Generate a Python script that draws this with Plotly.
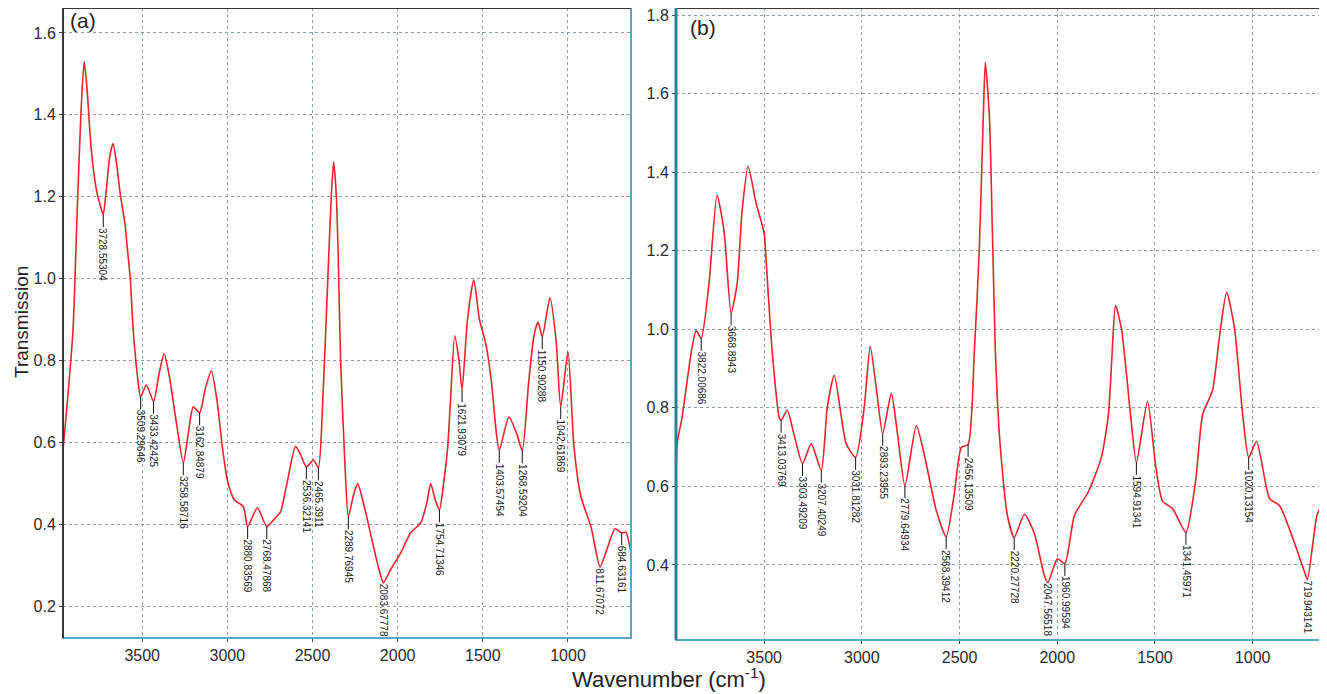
import numpy as np
import plotly.graph_objects as go

# ---------------- data: panel (a) ----------------
wn_a = [3965, 3935, 3906, 3882, 3860, 3841, 3825, 3800, 3770, 3740, 3728.55304, 3710, 3690, 3671,
        3650, 3630, 3600, 3588, 3570, 3553, 3530, 3509.29646, 3476, 3433.42425, 3400, 3371, 3340,
        3300, 3258.58716, 3230, 3200, 3162.84879, 3130, 3094, 3060, 3030, 3000, 2960, 2906,
        2880.83569, 2824, 2768.47868, 2730, 2688, 2650, 2600, 2570, 2536.32141, 2494, 2465.3911,
        2440, 2412, 2390, 2376, 2360, 2350, 2335, 2310, 2289.76945, 2260, 2235, 2200, 2150, 2110,
        2083.67778, 2040, 1982, 1924, 1865, 1830, 1806, 1780, 1754.71346, 1730, 1706, 1690, 1665,
        1640, 1621.93079, 1590, 1553, 1520, 1482, 1450, 1420, 1403.57454, 1347, 1300, 1268.59204,
        1230, 1200, 1176, 1150.90288, 1106, 1070, 1042.61869, 1000, 965, 924, 865, 811.67072, 770,
        724, 684.63161, 660, 630]
tr_a = [0.58, 0.72, 0.875, 1.16, 1.40, 1.53, 1.47, 1.32, 1.22, 1.17, 1.156, 1.22, 1.30, 1.33,
        1.28, 1.21, 1.13, 1.077, 1.00, 0.875, 0.77, 0.711, 0.74, 0.70, 0.77, 0.816, 0.76,
        0.65, 0.55, 0.62, 0.687, 0.672, 0.73, 0.775, 0.70, 0.59, 0.508, 0.46, 0.443,
        0.394, 0.44, 0.394, 0.41, 0.43, 0.50, 0.59, 0.57, 0.54, 0.557, 0.538,
        0.70, 0.98, 1.20, 1.285, 1.20, 1.07, 0.80, 0.55, 0.418, 0.47, 0.499, 0.45, 0.36, 0.29,
        0.257, 0.29, 0.33, 0.379, 0.403, 0.45, 0.499, 0.46, 0.435, 0.50, 0.589, 0.70, 0.86,
        0.80, 0.728, 0.90, 0.997, 0.90, 0.84, 0.75, 0.62, 0.58, 0.662, 0.62, 0.579,
        0.75, 0.86, 0.894, 0.858, 0.953, 0.85, 0.687, 0.821, 0.59, 0.467, 0.394, 0.296, 0.34,
        0.389, 0.379, 0.38, 0.33]
peaks_a = ["3728.55304", "3509.29646", "3433.42425", "3258.58716", "3162.84879", "2880.83569",
           "2768.47868", "2536.32141", "2465.3911", "2289.76945", "2083.67778", "1754.71346",
           "1621.93079", "1403.57454", "1268.59204", "1150.90288", "1042.61869", "811.67072",
           "684.63161"]

# ---------------- data: panel (b) ----------------
wn_b = [3951, 3945, 3920, 3869, 3848, 3822.00686, 3782, 3741, 3705, 3668.8943, 3638, 3613, 3582,
        3541, 3500, 3490, 3459, 3423, 3413.03769, 3382, 3346, 3303.49209, 3259, 3207.40249, 3177,
        3141, 3080, 3031.81282, 2988, 2957, 2926, 2893.23955, 2849, 2819, 2779.64934, 2721, 2680,
        2619, 2568.39412, 2527, 2491, 2456.13509, 2424, 2399, 2378, 2368, 2347, 2332, 2317, 2306,
        2291, 2255, 2220.27728, 2168, 2117, 2066, 2047.56518, 1999, 1960.99594, 1912, 1840, 1774,
        1738, 1720, 1702, 1671, 1625, 1594.91341, 1538, 1497, 1461, 1410, 1341.45971, 1292, 1256,
        1205, 1170, 1133, 1092, 1051, 1020.13154, 980, 913, 862, 738, 719.943141, 671, 647]
tr_b = [0.62, 0.71, 0.776, 0.954, 0.997, 0.977, 1.117, 1.341, 1.25, 1.041, 1.117, 1.30, 1.415,
        1.321, 1.245, 1.176, 0.946, 0.776, 0.768, 0.794, 0.73, 0.658, 0.709, 0.641, 0.80,
        0.883, 0.709, 0.674, 0.80, 0.957, 0.85, 0.735, 0.837, 0.74, 0.602, 0.755, 0.68,
        0.539, 0.472, 0.58, 0.699, 0.707, 0.946, 1.2, 1.55, 1.68, 1.54, 1.252, 0.95, 0.819,
        0.699, 0.526, 0.47, 0.529, 0.48, 0.373, 0.355, 0.416, 0.404, 0.526, 0.587, 0.674,
        0.783, 0.93, 1.061, 1.0, 0.783, 0.661, 0.817, 0.656, 0.562, 0.544, 0.483, 0.613, 0.783,
        0.845, 0.98, 1.094, 1.0, 0.783, 0.674, 0.715, 0.569, 0.551, 0.388, 0.363, 0.526, 0.551]
peaks_b = ["3822.00686", "3668.8943", "3413.03769", "3303.49209", "3207.40249", "3031.81282",
           "2893.23955", "2779.64934", "2568.39412", "2456.13509", "2220.27728", "2047.56518",
           "1960.99594", "1594.91341", "1341.45971", "1020.13154", "719.943141"]

xticks = [3500, 3000, 2500, 2000, 1500, 1000]
yticks_a = [0.2, 0.4, 0.6, 0.8, 1.0, 1.2, 1.4, 1.6]
yticks_b = [0.4, 0.6, 0.8, 1.0, 1.2, 1.4, 1.6, 1.8]

# ---------------- styling ----------------
OFF = 8                      # page body margin in the browser
W, H = 1327 - OFF, 694 - OFF
FONT = "Liberation Sans, Arial, sans-serif"
RED = "#e8232a"
GRID = "#8a9ea8"
NO_STEM = {"2083.67778", "811.67072", "2047.56518", "719.943141"}


def px(x0, x1):
    return [(x0 - OFF) / W, (x1 - OFF) / W]


def py(top, bottom):
    return [(H - (bottom - OFF)) / H, (H - (top - OFF)) / H]


def sx(x):
    return (x - OFF) / W


def sy(y):
    return (H - (y - OFF)) / H


fig = go.Figure()
for xs, ys, xa, ya in [(wn_a, tr_a, "x", "y"), (wn_b, tr_b, "x2", "y2")]:
    fig.add_trace(go.Scatter(x=xs, y=ys, mode="lines",
                             line=dict(color=RED, width=1.6, shape="spline", smoothing=0.6),
                             xaxis=xa, yaxis=ya, showlegend=False, hoverinfo="skip"))

ax_common = dict(showgrid=True, gridcolor=GRID, griddash="dot", gridwidth=1, zeroline=False,
                 showline=False, ticks="outside", ticklen=3, tickcolor="#444",
                 ticklabeloverflow="allow",
                 tickfont=dict(family=FONT, size=16, color="#2a2a2a"))

dom_xa, dom_ya = px(63, 631), py(8, 638)
dom_xb, dom_yb = px(676, 1322), py(8, 640)

fig.update_layout(
    width=W, height=H, margin=dict(l=0, r=0, t=0, b=0),
    paper_bgcolor="white", plot_bgcolor="white",
    xaxis=dict(domain=dom_xa, range=[3965, 630], tickvals=xticks, anchor="y", **ax_common),
    yaxis=dict(domain=dom_ya, range=[0.122, 1.661], tickvals=yticks_a, tickformat=".1f",
               anchor="x", **ax_common),
    xaxis2=dict(domain=dom_xb, range=[3951, 645], tickvals=xticks, anchor="y2", **ax_common),
    yaxis2=dict(domain=dom_yb, range=[0.209, 1.818], tickvals=yticks_b, tickformat=".1f",
                anchor="x2", **ax_common),
)

# frames
shapes = []
for xd, yd, lcol, lw in [(dom_xa, dom_ya, "#3a3634", 2), (dom_xb, dom_yb, "#2b7f99", 3)]:
    shapes.append(dict(type="rect", xref="paper", yref="paper", x0=xd[0], x1=xd[1], y0=yd[0],
                       y1=yd[1], line=dict(color="#55a9c8", width=2)))
    shapes.append(dict(type="line", xref="paper", yref="paper", x0=xd[0], x1=xd[1], y0=yd[1],
                       y1=yd[1], line=dict(color="#3a3634", width=2)))
    shapes.append(dict(type="line", xref="paper", yref="paper", x0=xd[0], x1=xd[0], y0=yd[0],
                       y1=yd[1], line=dict(color=lcol, width=lw)))
fig.update_layout(shapes=shapes)

annotations = []


def label_len(s):
    return sum(2.8 if c == "." else 5.56 for c in s)


for labels, xs, ys, xr, yr in [(peaks_a, wn_a, tr_a, "x", "y"), (peaks_b, wn_b, tr_b, "x2", "y2")]:
    xs_r = np.array(xs[::-1], dtype=float)
    ys_r = np.array(ys[::-1], dtype=float)
    for s in labels:
        w = float(s)
        v = float(np.interp(w, xs_r, ys_r))
        stem = 0 if s in NO_STEM else 12
        L = label_len(s)
        annotations.append(dict(
            x=w, y=v, xref=xr, yref=yr, text=s, textangle=90, showarrow=True, arrowhead=0,
            arrowwidth=1, arrowcolor="#111", ax=0, ay=stem + L / 2 + 1, standoff=0,
            font=dict(family=FONT, size=10, color="#1a1a1a"), borderpad=0))

annotations += [
    dict(x=sx(68), y=sy(21), xref="paper", yref="paper", text="(a)", showarrow=False,
         xanchor="left", yanchor="middle", font=dict(family=FONT, size=21, color="#222")),
    dict(x=sx(688), y=sy(27), xref="paper", yref="paper", text="(b)", showarrow=False,
         xanchor="left", yanchor="middle", font=dict(family=FONT, size=21, color="#222")),
    dict(x=sx(21), y=sy(322), xref="paper", yref="paper", text="Transmission",
         showarrow=False, textangle=-90, xanchor="center", yanchor="middle",
         font=dict(family=FONT, size=19, color="#222")),
    dict(x=sx(669), y=sy(694), xref="paper", yref="paper",
         text="Wavenumber (cm<sup>-1</sup>)", showarrow=False, xanchor="center",
         yanchor="bottom", font=dict(family=FONT, size=22, color="#222")),
]
fig.update_layout(annotations=annotations)

fig.write_html("out.html")
